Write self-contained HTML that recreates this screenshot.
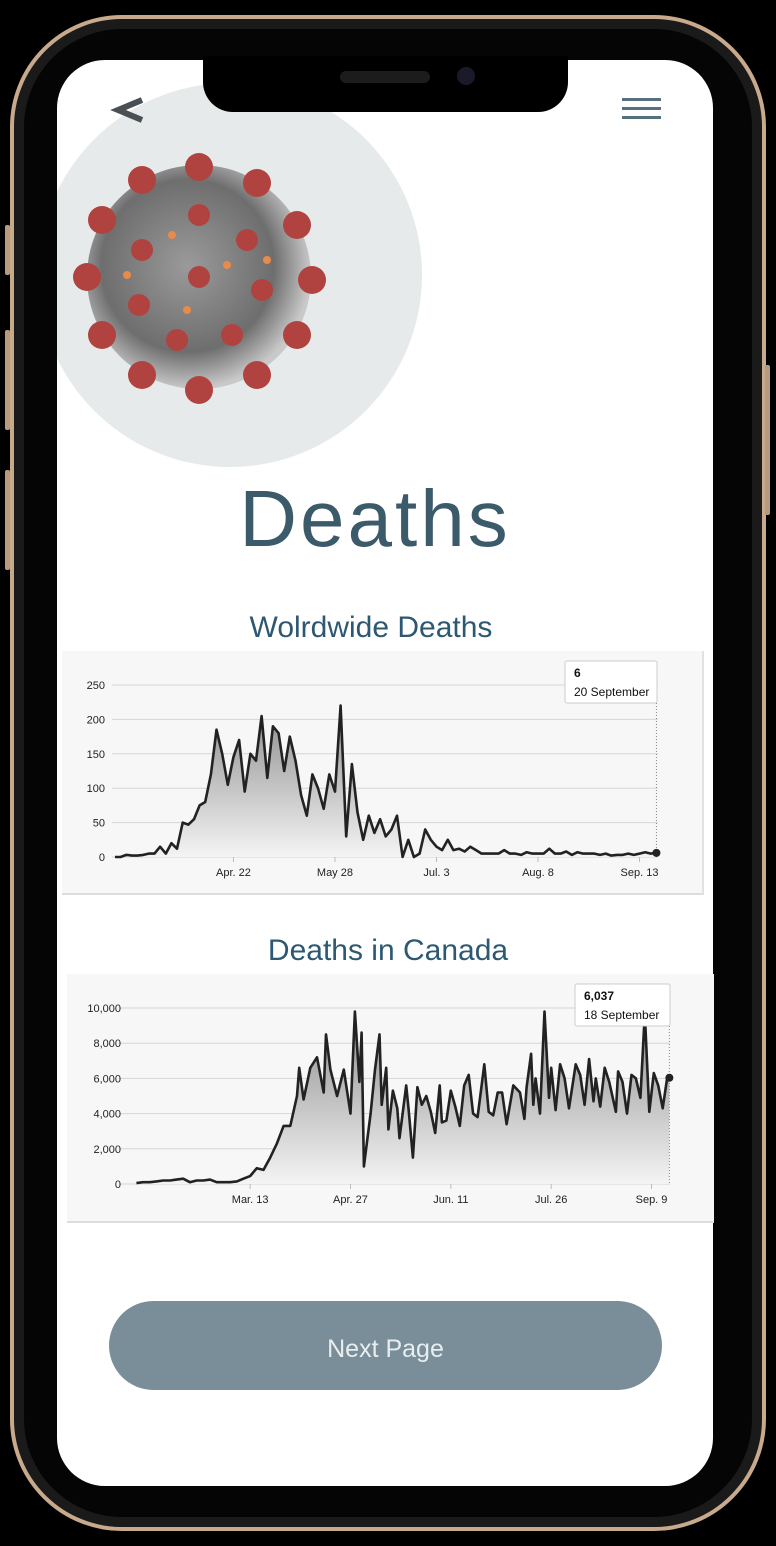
<!DOCTYPE html>
<html><head><meta charset="utf-8">
<style>
html,body{margin:0;padding:0;background:#000;}
body{width:776px;height:1546px;position:relative;overflow:hidden;font-family:"Liberation Sans",sans-serif;}
.abs{position:absolute;}
#frame{left:10px;top:15px;width:748px;height:1508px;border:4px solid #c8a98c;border-radius:112px;background:#050505;box-shadow:inset 0 0 0 10px #1a1a1a;}
#screen{left:57px;top:60px;width:656px;height:1426px;background:#fff;border-radius:48px;overflow:hidden;}
#notch{left:203px;top:56px;width:365px;height:56px;background:#000;border-radius:0 0 30px 30px;}
</style></head>
<body>
<div class="abs" id="frame"></div>
<div class="abs" style="left:5px;top:225px;width:5px;height:50px;background:#b89a7c;border-radius:2px"></div>
<div class="abs" style="left:5px;top:330px;width:5px;height:100px;background:#b89a7c;border-radius:2px"></div>
<div class="abs" style="left:5px;top:470px;width:5px;height:100px;background:#b89a7c;border-radius:2px"></div>
<div class="abs" style="left:765px;top:365px;width:5px;height:150px;background:#b89a7c;border-radius:2px"></div>
<div class="abs" id="screen">
  <div class="abs" style="left:-19px;top:23px;width:384px;height:384px;border-radius:50%;background:#e6eaea"></div>
  <svg class="abs" style="left:10px;top:85px" width="265" height="265">
    <defs><radialGradient id="vg" cx="45%" cy="45%" r="55%"><stop offset="0" stop-color="#9a9a9a"/><stop offset="0.7" stop-color="#6e6e6e"/><stop offset="1" stop-color="#c9c9c9"/></radialGradient></defs>
    <circle cx="132" cy="132" r="112" fill="url(#vg)"/>
    <g fill="#b0433f">
      <circle cx="132" cy="22" r="14"/><circle cx="190" cy="38" r="14"/><circle cx="230" cy="80" r="14"/><circle cx="245" cy="135" r="14"/><circle cx="230" cy="190" r="14"/><circle cx="190" cy="230" r="14"/><circle cx="132" cy="245" r="14"/><circle cx="75" cy="230" r="14"/><circle cx="35" cy="190" r="14"/><circle cx="20" cy="132" r="14"/><circle cx="35" cy="75" r="14"/><circle cx="75" cy="35" r="14"/>
      <circle cx="132" cy="70" r="11"/><circle cx="180" cy="95" r="11"/><circle cx="195" cy="145" r="11"/><circle cx="165" cy="190" r="11"/><circle cx="110" cy="195" r="11"/><circle cx="72" cy="160" r="11"/><circle cx="75" cy="105" r="11"/><circle cx="132" cy="132" r="11"/>
    </g>
    <g fill="#e88a4a"><circle cx="105" cy="90" r="4"/><circle cx="160" cy="120" r="4"/><circle cx="120" cy="165" r="4"/><circle cx="200" cy="115" r="4"/><circle cx="60" cy="130" r="4"/></g>
  </svg>
</div>
<div class="abs" id="notch"></div>
<div class="abs" style="left:340px;top:71px;width:90px;height:12px;background:#1c1c1c;border-radius:6px"></div>
<div class="abs" style="left:457px;top:67px;width:18px;height:18px;background:#1a1a2a;border-radius:50%"></div>

<svg class="abs" style="left:110px;top:96px" width="36" height="28"><polyline points="32,4 8,14 32,24" fill="none" stroke="#4a4f55" stroke-width="6" stroke-linejoin="miter"/></svg>
<div class="abs" style="left:622px;top:98px;width:39px;height:24px">
  <div style="height:3px;background:#55707e;margin-bottom:6px"></div><div style="height:3px;background:#55707e;margin-bottom:6px"></div><div style="height:3px;background:#55707e"></div>
</div>

<div class="abs" style="left:0;width:750px;top:479px;text-align:center;font-size:80px;line-height:80px;color:#3b5a6a;letter-spacing:3px">Deaths</div>
<div class="abs" style="left:0;width:742px;top:611px;text-align:center;font-size:30px;color:#2d5872">Wolrdwide Deaths</div>
<div class="abs" style="left:0;width:776px;top:934px;text-align:center;font-size:30px;color:#2d5872">Deaths in Canada</div>

<div class="abs" style="left:62px;top:651px;width:640px;height:242px;background:#f7f7f7;border-bottom:2px solid #ddd;border-right:2px solid #e2e2e2"></div>
<div class="abs" style="left:67px;top:974px;width:647px;height:247px;background:#f7f7f7;border-bottom:2px solid #ddd"></div>

<svg id="charts" class="abs" style="left:0;top:0" width="776" height="1546">
<defs>
<linearGradient id="fg1" x1="0" y1="0" x2="0" y2="1"><stop offset="0" stop-color="#8c8c8c"/><stop offset="1" stop-color="#f4f4f4"/></linearGradient>
</defs>
</svg>

<div class="abs" style="left:109px;top:1301px;width:553px;height:89px;background:#7a8e99;border-radius:45px;color:#e8eef0;font-size:25px;text-align:center;line-height:97px">Next Page</div>

<script>
// Worldwide: values every 2 days starting Mar 11
const wwValues=[0,0,3,2,2,3,5,5,15,5,20,12,50,47,55,75,80,120,185,150,105,145,170,95,150,140,205,115,190,180,125,175,140,90,60,120,100,70,120,95,220,30,135,65,25,60,35,55,30,40,60,0,25,0,5,40,25,15,10,25,10,12,8,15,10,5,5,5,5,10,5,5,3,7,5,5,5,12,5,5,8,3,7,5,5,5,3,5,2,3,3,5,3,5,7,5,6];
const wwTicks=[0,50,100,150,200,250];
const wwXLabels=["Apr. 22","May 28","Jul. 3","Aug. 8","Sep. 13"];
const wwXDays=[42,78,114,150,186];
// Canada: days since Jan 22, values
const caDays=[0,3,6,9,12,15,18,21,24,27,30,33,36,39,42,45,48,51,54,57,60,63,66,69,72,73,75,78,81,84,85,87,90,93,96,98,100,101,102,105,107,109,110,112,113,115,117,118,121,122,124,126,128,130,132,134,136,137,139,141,143,145,147,149,151,153,156,158,160,162,164,166,169,172,174,175,177,178,179,181,183,185,186,188,190,192,194,197,199,201,203,205,206,208,210,212,215,216,218,220,222,224,226,228,230,232,234,236,238,239];
const caValues=[50,100,100,150,200,200,250,300,100,200,200,250,100,100,100,150,300,450,900,800,1500,2300,3300,3300,5000,6600,4800,6600,7200,5200,8500,6500,5000,6500,4000,9800,5800,8600,1000,4000,6500,8500,4500,6600,3100,5300,4300,2600,5600,4300,1500,5500,4500,5000,4100,2900,5600,3500,3600,5300,4400,3300,5600,6200,4000,3800,6800,4100,3900,5200,5200,3400,5600,5200,3700,5500,7400,4500,6000,4000,9800,4900,6600,4200,6800,6000,4300,6800,6200,4500,7100,4700,6000,4400,6600,5800,4100,6400,5800,4000,6200,6000,4900,9700,4100,6300,5600,4300,6000,6037];
const caTicks=[0,2000,4000,6000,8000,10000];
const caXLabels=["Mar. 13","Apr. 27","Jun. 11","Jul. 26","Sep. 9"];
const caXDays=[51,96,141,186,231];

const NS="http://www.w3.org/2000/svg";
const svg=document.getElementById('charts');
function mk(tag,attrs,parent){const e=document.createElementNS(NS,tag);for(const k in attrs)e.setAttribute(k,attrs[k]);(parent||svg).appendChild(e);return e;}

function drawChart(o){
  const g=mk('g',{});
  
  
  o.ticks.forEach(t=>{
    const y=o.y(t);
    const ln=mk('line',{x1:o.gx0,x2:o.gx1,y1:y,y2:y,stroke:'#d6d6d6','stroke-width':1},g);
    
    
    const tx=mk('text',{x:o.labelX,y:y+4,'text-anchor':'end','font-size':11,fill:'#222','font-family':'Liberation Sans, sans-serif'},g);
    tx.textContent=o.fmt(t);
    
    
  });
  o.xDays.forEach((d,i)=>{
    const x=o.x(d);
    const tk=mk('line',{x1:x,x2:x,y1:o.y(0),y2:o.y(0)+5,stroke:'#bbb'},g);
    
    
    const tx=mk('text',{x:x,y:o.y(0)+19,'text-anchor':'middle','font-size':11,fill:'#222','font-family':'Liberation Sans, sans-serif'},g);
    tx.textContent=o.xLabels[i];
    
    
  });
  const pts=o.days.map((d,i)=>[o.x(d),o.y(o.values[i])]);
  const line=pts.map((p,i)=>(i?'L':'M')+p[0].toFixed(1)+','+p[1].toFixed(1)).join(' ');
  const area=mk('path',{d:line+` L${pts[pts.length-1][0]},${o.y(0)} L${pts[0][0]},${o.y(0)} Z`,fill:'url(#fg1)'},g);
  
  
  const pl=mk('path',{d:line,fill:'none',stroke:'#222','stroke-width':2.6,'stroke-linejoin':'round'},g);
  
  
  const last=pts[pts.length-1];
  const vl=mk('line',{x1:last[0],x2:last[0],y1:o.tipY+42,y2:o.y(0),stroke:'#888','stroke-dasharray':'1,2'},g);
  
  
  const dot=mk('circle',{cx:last[0],cy:last[1],r:4,fill:'#222'},g);
  
  
  const tip=mk('g',{},g);
  
  
  mk('rect',{x:o.tipX,y:o.tipY,width:o.tipW,height:42,fill:'#fff',stroke:'#ccc',rx:2},tip);
  const t1=mk('text',{x:o.tipX+9,y:o.tipY+16,'font-size':12,'font-weight':'bold',fill:'#111','font-family':'Liberation Sans, sans-serif'},tip);
  t1.textContent=o.tipVal;
  const t2=mk('text',{x:o.tipX+9,y:o.tipY+35,'font-size':12,fill:'#111','font-family':'Liberation Sans, sans-serif'},tip);
  t2.textContent=o.tipDate;
}
drawChart({name:'worldwide-deaths-chart',days:wwValues.map((_,i)=>i*2),values:wwValues,ticks:wwTicks,
  x:d=>115+d*2.82,y:v=>857-v*0.688,gx0:112,gx1:658,labelX:105,fmt:t=>String(t),
  xDays:wwXDays,xLabels:wwXLabels,tipX:565,tipY:661,tipW:92,tipVal:'6',tipDate:'20 September'});
drawChart({name:'canada-deaths-chart',days:caDays,values:caValues,ticks:caTicks,
  x:d=>136.4+d*2.23,y:v=>1184-v*0.0176,gx0:119,gx1:670,labelX:121,fmt:t=>t.toLocaleString('en-US'),
  xDays:caXDays,xLabels:caXLabels,tipX:575,tipY:984,tipW:95,tipVal:'6,037',tipDate:'18 September'});
</script>
</body></html>
